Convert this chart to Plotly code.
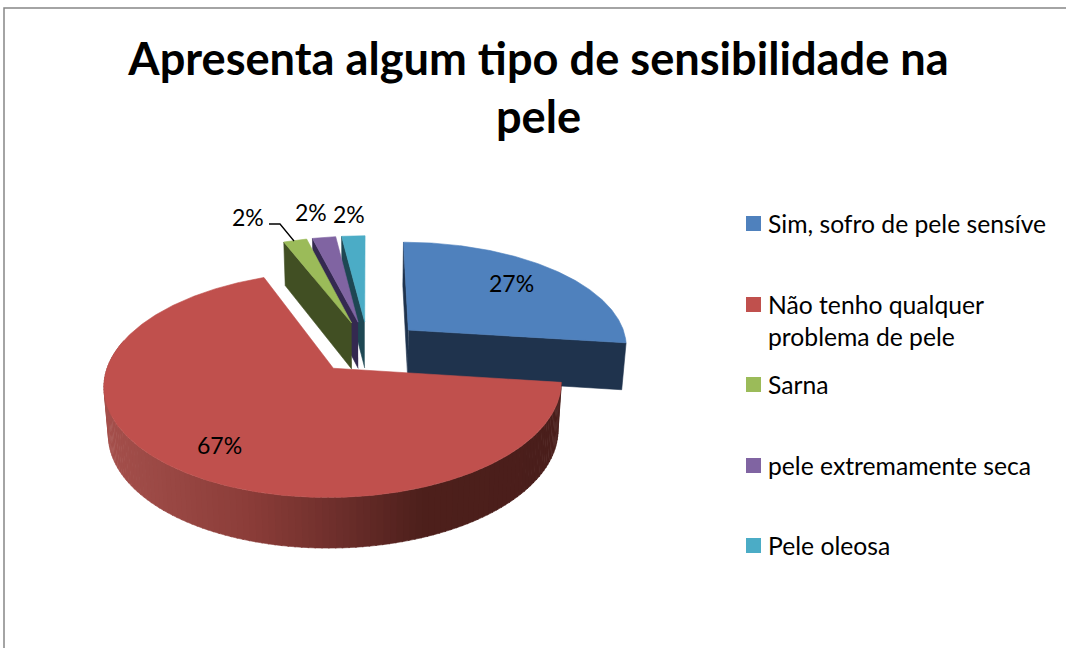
import numpy as np
import plotly.graph_objects as go

# data
labels = ["Sim, sofro de pele sensíve", "Não tenho qualquer<br>problema de pele", "Sarna",
          "pele extremamente seca", "Pele oleosa"]
values = [27, 67, 2, 2, 2]
pct_text = ["27%", "67%", "2%", "2%", "2%"]
colors = ["#4f81bd", "#c0504d", "#9bbb59", "#8064a2", "#4bacc6"]
side_colors = ["#1f334d", "#4e1f1c", "#414f23", "#342950", "#1e4753"]
title = "Apresenta algum tipo de sensibilidade na<br>pele"

# where the labels sit on the page
pct_x = [511, 219, 248, 311, 349]
pct_y = [283, 445, 217, 212, 214]
legend_y = [223.5, 304.5, 384.5, 465.5, 545.5]
legend_text_y = [223, 320, 384, 465, 545]

# fake 3d pie: project the slices by hand, plotly has no 3d pie
OX, OY, RX, RY, K = 368, 347, 220, 104.6, 0.14
EXPLODE = 0.25

wall_x = [105, 250, 330, 420, 560]
wall_r = [165, 139, 112, 78, 74]
wall_g = [80, 61, 48, 32, 30]
wall_b = [76, 57, 45, 28, 27]


def project(X, V, down=False):
    X, V = np.asarray(X, float), np.asarray(V, float)
    d = 1 - K * V
    x = OX + RX * X / d
    y = OY + RY * V / d
    if down:
        x = OX + (x - OX) * 0.983
        y = y + 47 + 3 * V
    return x, y


def arc(i, a0, a1, down=False):
    t = np.radians(np.linspace(a0, a1, max(2, int(abs(a1 - a0) * 2))))
    ax, av = apex(i)
    return project(ax + np.sin(t), av - np.cos(t), down)


def apex(i):
    mid = np.radians((ang[i] + ang[i + 1]) / 2)
    return EXPLODE * np.sin(mid), -EXPLODE * np.cos(mid)


def poly(fig, x, y, color):
    fig.add_trace(go.Scatter(x=list(x), y=list(y), fill="toself", fillcolor=color, mode="lines",
                             line=dict(color=color, width=0.6), hoverinfo="skip", showlegend=False))


def cut_face(fig, i, a, color):
    ax, av = apex(i)
    tx, ty = arc(i, a, a + 1e-6)
    bx, by = arc(i, a, a + 1e-6, True)
    px, py = project([ax], [av])
    qx, qy = project([ax], [av], True)
    poly(fig, [px[0], tx[0], bx[0], qx[0]], [py[0], ty[0], by[0], qy[0]], color)


def top_face(fig, i):
    ax, av = apex(i)
    x, y = arc(i, ang[i], ang[i + 1])
    px, py = project([ax], [av])
    poly(fig, np.r_[px, x, px], np.r_[py, y, py], colors[i])


ang = np.r_[0, np.cumsum(values)] / sum(values) * 360

fig = go.Figure()

# small slices, back to front
for i in [4, 3, 2]:
    cut_face(fig, i, ang[i], side_colors[i])
    top_face(fig, i)

# blue slice
cut_face(fig, 0, ang[0], side_colors[0])
cut_face(fig, 0, ang[1], side_colors[0])
top_face(fig, 0)

# red slice, wall split up for the gradient
steps = np.arange(ang[1], 286, 1.5)
for a0, a1 in zip(steps[:-1], steps[1:]):
    tx, ty = arc(1, a0, a1 + 0.3)
    bx, by = arc(1, a0, a1 + 0.3, True)
    mx = (tx[0] + tx[-1]) / 2
    c = "rgb(%d,%d,%d)" % (np.interp(mx, wall_x, wall_r), np.interp(mx, wall_x, wall_g),
                           np.interp(mx, wall_x, wall_b))
    poly(fig, np.r_[tx, bx[::-1]], np.r_[ty, by[::-1]], c)
top_face(fig, 1)

# legend squares
fig.add_trace(go.Scatter(x=[753.5] * len(labels), y=legend_y, mode="markers", hoverinfo="skip",
                         marker=dict(symbol="square", size=15, color=colors), showlegend=False))

annots = []
for t, x, y in zip(pct_text, pct_x, pct_y):
    annots.append(dict(x=x, y=y, text=t, showarrow=False, font=dict(family="Lato", size=23, color="#000000")))
for t, y in zip(labels, legend_text_y):
    annots.append(dict(x=766, y=y, text=t, showarrow=False, xanchor="left", align="left",
                       font=dict(family="Lato", size=24.7, color="#000000")))
annots = [dict(a, xref="x", yref="y") for a in annots]

fig.update_layout(
    width=1066, height=648,
    margin=dict(l=0, r=0, t=0, b=0),
    paper_bgcolor="#ffffff", plot_bgcolor="#ffffff",
    title=dict(text=title, x=538.5 / 1066, xanchor="center", y=0.885, yanchor="middle",
               font=dict(family="Lato", size=45.2, color="#000000", weight="bold")),
    xaxis=dict(range=[0, 1066], visible=False, fixedrange=True),
    yaxis=dict(range=[648, 0], visible=False, fixedrange=True),
    annotations=annots,
    shapes=[
        dict(type="path", xref="x", yref="y", path="M269,224 L280,224 L294,241",
             line=dict(color="#000000", width=1.3)),
        dict(type="path", xref="x", yref="y", path="M4,648 L4,8 L1066,8",
             line=dict(color="#868686", width=1.5)),
    ],
)

# drop the browser's default 8px body margin so the figure fills the window
fig.write_html("out.html", config={"displayModeBar": False},
               post_script="document.body.style.margin='0';document.body.style.overflow='hidden';")
